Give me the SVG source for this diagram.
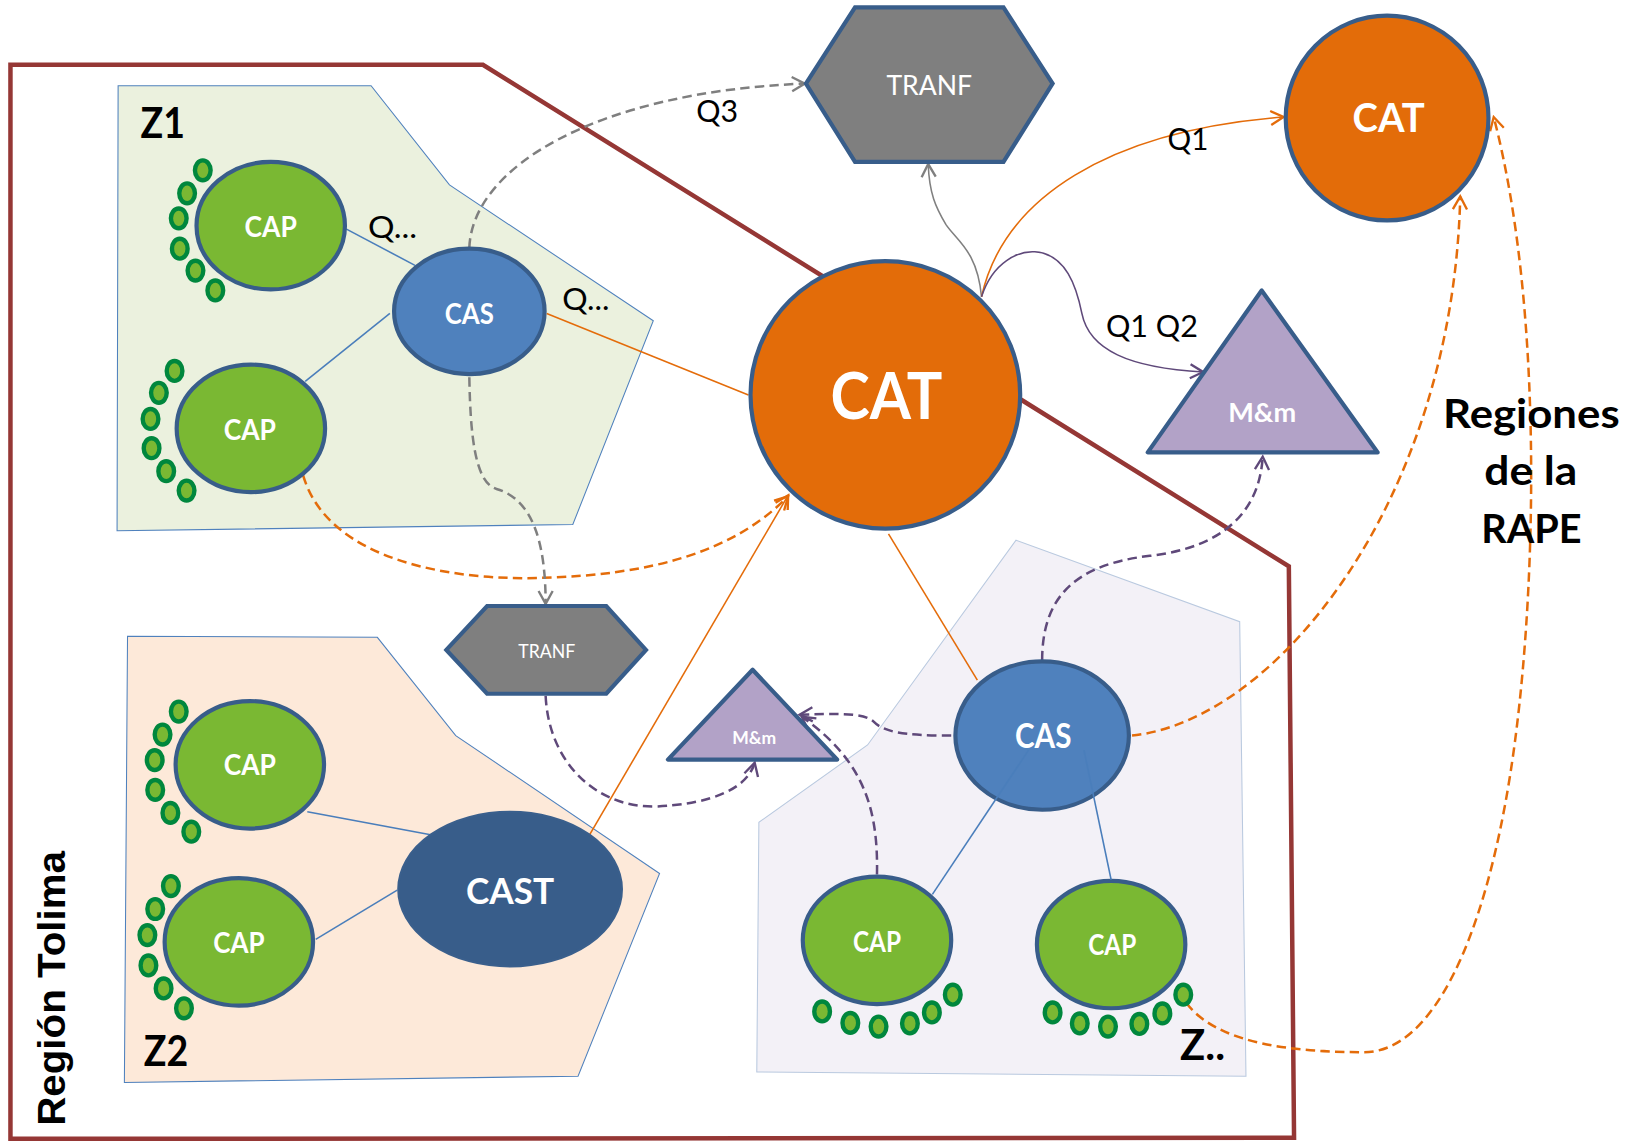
<svg xmlns="http://www.w3.org/2000/svg" width="1639" height="1142" viewBox="0 0 1639 1142">
<defs>
<style>
.zone{stroke-width:1}
.node{stroke:#385d8a;stroke-width:4}
.cap{fill:#7ab833}
.cas{fill:#4f81bd}
.cat{fill:#e36c09}
.gray{fill:#7f7f7f}
.mm{fill:#b2a2c7}
.dot{fill:#7ab833;stroke:#00873d;stroke-width:4.2}
.t{font-family:Lato,"Liberation Sans",sans-serif;fill:#fff;text-anchor:middle}
.b{font-weight:bold}
.k{font-family:Lato,"Liberation Sans",sans-serif;fill:#000}
.ln{fill:none;stroke-width:1.5}
.dash{fill:none;stroke-width:2.4;stroke-dasharray:9 5}
</style>
<marker id="aO" markerUnits="userSpaceOnUse" markerWidth="18" markerHeight="18" viewBox="0 0 16 16" refX="14" refY="8" orient="auto"><path d="M3,2 L14,8 L3,14" fill="none" stroke="#e46c0a" stroke-width="2"/></marker>
<marker id="aG" markerUnits="userSpaceOnUse" markerWidth="18" markerHeight="18" viewBox="0 0 16 16" refX="14" refY="8" orient="auto"><path d="M3,2 L14,8 L3,14" fill="none" stroke="#7f7f7f" stroke-width="2"/></marker>
<marker id="aP" markerUnits="userSpaceOnUse" markerWidth="18" markerHeight="18" viewBox="0 0 16 16" refX="14" refY="8" orient="auto"><path d="M3,2 L14,8 L3,14" fill="none" stroke="#5f497a" stroke-width="2"/></marker>
</defs>
<g transform="scale(1.04528,1.04483)">
<g id="zones">
<polygon id="zone-z1" class="zone" points="113,82 355,82 430,177 625,307 548,502 112,508" fill="#ebf1de" stroke="#4f81bd"/>
<polygon id="zone-z2" class="zone" points="122,609 361,610 436,704 631,836 553,1030 119,1036" fill="#fde9d9" stroke="#4f81bd"/>
<polygon id="zone-zx" class="zone" points="972,517 1186,595 1192,1030 724,1026 726,787 830,713" fill="#f3f1f7" stroke="#b9c9df"/>
</g>
<polygon id="region-tolima" points="10,62 462,62 1233,542 1238,1089 10,1090" fill="none" stroke="#953735" stroke-width="4.3"/>
<g id="connectors">
<line class="ln" stroke="#4a7ebb" x1="331" y1="219" x2="397" y2="254"/>
<line class="ln" stroke="#4a7ebb" x1="292" y1="365" x2="373" y2="300"/>
<line class="ln" stroke="#4a7ebb" x1="294" y1="777" x2="412" y2="799"/>
<line class="ln" stroke="#4a7ebb" x1="302" y1="899" x2="380" y2="852"/>
<line class="ln" stroke="#e46c0a" x1="523" y1="300" x2="716" y2="378"/>
<line class="ln" stroke="#e46c0a" x1="850" y1="511" x2="935" y2="651"/>
<line class="ln" stroke="#e46c0a" x1="564" y1="799" x2="754" y2="474" marker-end="url(#aO)"/>
<path class="dash" stroke="#e46c0a" d="M290,455 C315,540 440,556 520,553 C620,550 700,530 754,475" marker-end="url(#aO)"/>
<path class="dash" stroke="#e46c0a" d="M1083,704 C1220,690 1390,480 1397,188" marker-end="url(#aO)"/>
<path class="dash" stroke="#e46c0a" d="M1135,960 C1165,1000 1240,1007 1305,1007 C1370,1007 1420,900 1445,740 C1470,580 1478,300 1429,112" marker-end="url(#aO)"/>
<path class="dash" stroke="#7f7f7f" d="M449,237 C452,160 570,88 770,80" marker-end="url(#aG)"/>
<path class="dash" stroke="#7f7f7f" d="M449,361 C450,420 455,462 475,468 C510,478 522,520 522,578" marker-end="url(#aG)"/>
<path class="ln" stroke="#808080" d="M939,284 C935,240 915,230 905,215 C895,198 889,185 888,157" marker-end="url(#aG)"/>
<path class="ln" stroke="#e46c0a" d="M939,284 C960,190 1060,125 1228,112" marker-end="url(#aO)"/>
<path class="ln" stroke="#5f497a" stroke-width="2" d="M939,284 C950,250 975,240 990,241 C1020,243 1030,275 1035,300 C1042,335 1080,352 1151,356" marker-end="url(#aP)"/>
<path class="dash" stroke="#5f497a" d="M997,632 C997,570 1030,540 1100,532 C1170,524 1205,490 1208,437" marker-end="url(#aP)"/>
<path class="dash" stroke="#5f497a" d="M910,704 C860,704 845,700 835,690 C825,682 800,683 765,684" marker-end="url(#aP)"/>
<path class="dash" stroke="#5f497a" d="M839,837 C840,780 830,730 767,686" marker-end="url(#aP)"/>
<path class="dash" stroke="#5f497a" d="M522,666 C525,730 570,772 625,772 C680,770 715,755 722,730" marker-end="url(#aP)"/>
</g>
<g id="labels">
<text class="k" x="352" y="228" font-size="29" textLength="47" lengthAdjust="spacingAndGlyphs">Q...</text>
<text class="k" x="538" y="297" font-size="29" textLength="45" lengthAdjust="spacingAndGlyphs">Q...</text>
<text class="k" x="666" y="117" font-size="29" textLength="40" lengthAdjust="spacingAndGlyphs">Q3</text>
<text class="k" x="1117" y="143.5" font-size="29" textLength="39" lengthAdjust="spacingAndGlyphs">Q1</text>
<text class="k" x="1058" y="323" font-size="29" textLength="88" lengthAdjust="spacingAndGlyphs">Q1 Q2</text>
<text class="k b" x="134.5" y="132" font-size="40" textLength="42.5" lengthAdjust="spacingAndGlyphs">Z1</text>
<text class="k b" x="137.5" y="1020.5" font-size="40" textLength="42.5" lengthAdjust="spacingAndGlyphs">Z2</text>
<text class="k b" x="1129" y="1014.5" font-size="40" textLength="43" lengthAdjust="spacingAndGlyphs">Z..</text>
<text class="k b" x="1465" y="410" font-size="38" text-anchor="middle" textLength="169" lengthAdjust="spacingAndGlyphs">Regiones</text>
<text class="k b" x="1464.5" y="464.5" font-size="38" text-anchor="middle" textLength="89" lengthAdjust="spacingAndGlyphs">de la</text>
<text class="k b" x="1465" y="519.5" font-size="38" text-anchor="middle" textLength="96" lengthAdjust="spacingAndGlyphs">RAPE</text>
<text x="0" y="0" transform="translate(62,946) rotate(-90)" font-family="'Liberation Sans',Arial,sans-serif" font-weight="bold" font-size="38" text-anchor="middle" textLength="263" lengthAdjust="spacingAndGlyphs">Región Tolima</text>
</g>
<g id="node-z1-cap1">
<ellipse class="dot" cx="194" cy="163" rx="7.5" ry="9.5"/><ellipse class="dot" cx="179" cy="185" rx="7.5" ry="9.5"/><ellipse class="dot" cx="171" cy="209" rx="7.5" ry="9.5"/><ellipse class="dot" cx="172" cy="238" rx="7.5" ry="9.5"/><ellipse class="dot" cx="187" cy="259" rx="7.5" ry="9.5"/><ellipse class="dot" cx="206" cy="278" rx="7.5" ry="9.5"/>
<ellipse class="node cap" cx="259" cy="216" rx="71" ry="61"/>
<text class="t b" x="259" y="227" font-size="28" textLength="50" lengthAdjust="spacingAndGlyphs">CAP</text>
</g>
<g id="node-z1-cap2">
<ellipse class="dot" cx="167" cy="355" rx="7.5" ry="9.5"/><ellipse class="dot" cx="152" cy="376" rx="7.5" ry="9.5"/><ellipse class="dot" cx="144" cy="401" rx="7.5" ry="9.5"/><ellipse class="dot" cx="145" cy="429" rx="7.5" ry="9.5"/><ellipse class="dot" cx="159" cy="451" rx="7.5" ry="9.5"/><ellipse class="dot" cx="178.5" cy="469.5" rx="7.5" ry="9.5"/>
<ellipse class="node cap" cx="240" cy="410" rx="71" ry="61"/>
<text class="t b" x="239" y="421" font-size="28" textLength="50" lengthAdjust="spacingAndGlyphs">CAP</text>
</g>
<g id="node-z1-cas">
<ellipse class="node cas" cx="449" cy="298" rx="72" ry="60"/>
<text class="t b" x="449" y="310" font-size="26.5" textLength="47" lengthAdjust="spacingAndGlyphs">CAS</text>
</g>
<g id="node-z2-cap1">
<ellipse class="dot" cx="171" cy="681" rx="7.5" ry="9.5"/><ellipse class="dot" cx="155.5" cy="703" rx="7.5" ry="9.5"/><ellipse class="dot" cx="148" cy="727.5" rx="7.5" ry="9.5"/><ellipse class="dot" cx="148.5" cy="756" rx="7.5" ry="9.5"/><ellipse class="dot" cx="163" cy="778" rx="7.5" ry="9.5"/><ellipse class="dot" cx="183" cy="796" rx="7.5" ry="9.5"/>
<ellipse class="node cap" cx="239" cy="732" rx="71" ry="61"/>
<text class="t b" x="239" y="742" font-size="28" textLength="50" lengthAdjust="spacingAndGlyphs">CAP</text>
</g>
<g id="node-z2-cap2">
<ellipse class="dot" cx="163.5" cy="848" rx="7.5" ry="9.5"/><ellipse class="dot" cx="148.5" cy="870" rx="7.5" ry="9.5"/><ellipse class="dot" cx="141" cy="895" rx="7.5" ry="9.5"/><ellipse class="dot" cx="142" cy="924" rx="7.5" ry="9.5"/><ellipse class="dot" cx="156.5" cy="946" rx="7.5" ry="9.5"/><ellipse class="dot" cx="176" cy="965" rx="7.5" ry="9.5"/>
<ellipse class="node cap" cx="228.5" cy="901.5" rx="71" ry="61"/>
<text class="t b" x="228.5" y="912" font-size="28" textLength="49" lengthAdjust="spacingAndGlyphs">CAP</text>
</g>
<g id="node-cast">
<ellipse cx="488" cy="851" rx="107" ry="74" fill="#385d8a" stroke="#3a5f8c" stroke-width="2"/>
<text class="t b" x="488" y="865" font-size="35" textLength="84.5" lengthAdjust="spacingAndGlyphs">CAST</text>
</g>
<g id="node-tranf-small">
<polygon class="node gray" points="427,622 466,580 580,580 618,622 580,664 466,664"/>
<text class="t" x="523" y="630" font-size="18.5" textLength="54.5" lengthAdjust="spacingAndGlyphs">TRANF</text>
</g>
<g id="node-mm-small">
<polygon class="node mm" points="720,641 639,727 801,727" stroke-linejoin="round"/>
<text class="t b" x="721.5" y="712" font-size="16" textLength="42" lengthAdjust="spacingAndGlyphs">M&amp;m</text>
</g>
<g id="node-cat-main">
<ellipse class="node cat" cx="847" cy="378" rx="129" ry="128"/>
<text class="t b" x="848" y="401.5" font-size="62" textLength="107" lengthAdjust="spacingAndGlyphs">CAT</text>
</g>
<g id="node-tranf-top">
<polygon class="node gray" points="771,80 818,7 960,7 1007,80 960,155 818,155"/>
<text class="t" x="889" y="90.5" font-size="26" textLength="82" lengthAdjust="spacingAndGlyphs">TRANF</text>
</g>
<g id="node-cat-rape">
<ellipse class="node cat" cx="1327" cy="113" rx="97" ry="98"/>
<text class="t b" x="1328.5" y="126.5" font-size="38" textLength="69" lengthAdjust="spacingAndGlyphs">CAT</text>
</g>
<g id="node-mm-big">
<polygon class="node mm" points="1207,278 1098,433 1318,433" stroke-linejoin="round"/>
<text class="t b" x="1207.5" y="404" font-size="25" textLength="65" lengthAdjust="spacingAndGlyphs">M&amp;m</text>
</g>
<g id="node-zx-cas">
<ellipse class="node cas" cx="997" cy="704" rx="83" ry="71"/>
<text class="t b" x="998" y="716" font-size="32" textLength="54" lengthAdjust="spacingAndGlyphs">CAS</text>
</g>
<g id="node-zx-cap1">
<ellipse class="dot" cx="786.5" cy="968" rx="7.5" ry="9.5"/><ellipse class="dot" cx="813.5" cy="979" rx="7.5" ry="9.5"/><ellipse class="dot" cx="840.5" cy="982.5" rx="7.5" ry="9.5"/><ellipse class="dot" cx="870.5" cy="979.5" rx="7.5" ry="9.5"/><ellipse class="dot" cx="891.5" cy="969" rx="7.5" ry="9.5"/><ellipse class="dot" cx="911.5" cy="952" rx="7.5" ry="9.5"/>
<ellipse class="node cap" cx="839" cy="900" rx="71" ry="61"/>
<text class="t b" x="839" y="911" font-size="26.5" textLength="46" lengthAdjust="spacingAndGlyphs">CAP</text>
</g>
<g id="node-zx-cap2">
<ellipse class="dot" cx="1007" cy="969" rx="7.5" ry="9.5"/><ellipse class="dot" cx="1033" cy="979.5" rx="7.5" ry="9.5"/><ellipse class="dot" cx="1060" cy="982.5" rx="7.5" ry="9.5"/><ellipse class="dot" cx="1090" cy="980" rx="7.5" ry="9.5"/><ellipse class="dot" cx="1112" cy="970" rx="7.5" ry="9.5"/><ellipse class="dot" cx="1132" cy="952" rx="7.5" ry="9.5"/>
<ellipse class="node cap" cx="1063" cy="904" rx="71" ry="61"/>
<text class="t b" x="1064" y="914" font-size="26.5" textLength="46" lengthAdjust="spacingAndGlyphs">CAP</text>
</g>
<g id="connectors-over">
<line class="ln" stroke="#4a7ebb" x1="984" y1="718" x2="892" y2="856"/>
<line class="ln" stroke="#4a7ebb" x1="1037" y1="718" x2="1063" y2="842"/>
</g>
</g>
</svg>
